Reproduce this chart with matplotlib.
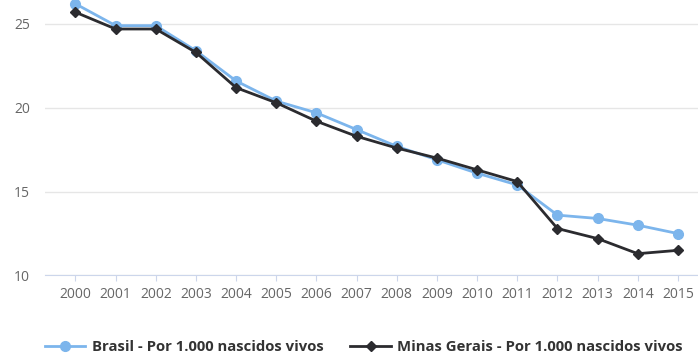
import numpy as np
import matplotlib.pyplot as plt

plt.rcParams['font.family'] = ['Open Sans', 'DejaVu Sans']

anos = ['2000', '2001', '2002', '2003', '2004', '2005', '2006', '2007',
        '2008', '2009', '2010', '2011', '2012', '2013', '2014', '2015']
brasil = [26.2, 24.9, 24.9, 23.4, 21.6, 20.4, 19.7, 18.7,
          17.7, 16.9, 16.1, 15.4, 13.6, 13.4, 13.0, 12.5]
minas = [25.7, 24.7, 24.7, 23.3, 21.2, 20.3, 19.2, 18.3,
         17.6, 17.0, 16.3, 15.6, 12.8, 12.2, 11.3, 11.5]

fig = plt.figure(figsize=(6.98, 3.55), dpi=100)
ax = fig.add_axes([0.065, 0.224, 0.935, 0.776])

x = np.arange(len(anos))
ax.plot(x, brasil, color='#7cb5ec', lw=2, marker='o', ms=7,
        label='Brasil - Por 1.000 nascidos vivos', zorder=3)
ax.plot(x, minas, color='#2b2b2f', lw=2, marker='D', ms=5,
        label='Minas Gerais - Por 1.000 nascidos vivos', zorder=4)

ax.set_xlim(-0.75, 15.5)
ax.set_ylim(10, 26.43)
ax.set_yticks([10, 15, 20, 25])
ax.set_xticks(x)
ax.set_xticklabels(anos)

ax.grid(axis='y', color='#e6e6e6', lw=1)
ax.set_axisbelow(True)
for s in ['top', 'right', 'left']:
    ax.spines[s].set_visible(False)
ax.spines['bottom'].set_color('#ccd6eb')
ax.tick_params(axis='y', length=0, pad=11, labelsize=10, labelcolor='#666666')
ax.tick_params(axis='x', length=4.5, color='#ccd6eb', pad=4, labelsize=10,
               labelcolor='#666666')

leg = fig.legend(loc='center', bbox_to_anchor=(0.5215, 0.022), ncol=2,
                 frameon=False, handlelength=2.7, handletextpad=0.45,
                 columnspacing=1.8, borderpad=0,
                 prop={'size': 10.7, 'weight': 'bold'})
for t in leg.get_texts():
    t.set_color('#333333')

fig.savefig('out.png', dpi=100)
